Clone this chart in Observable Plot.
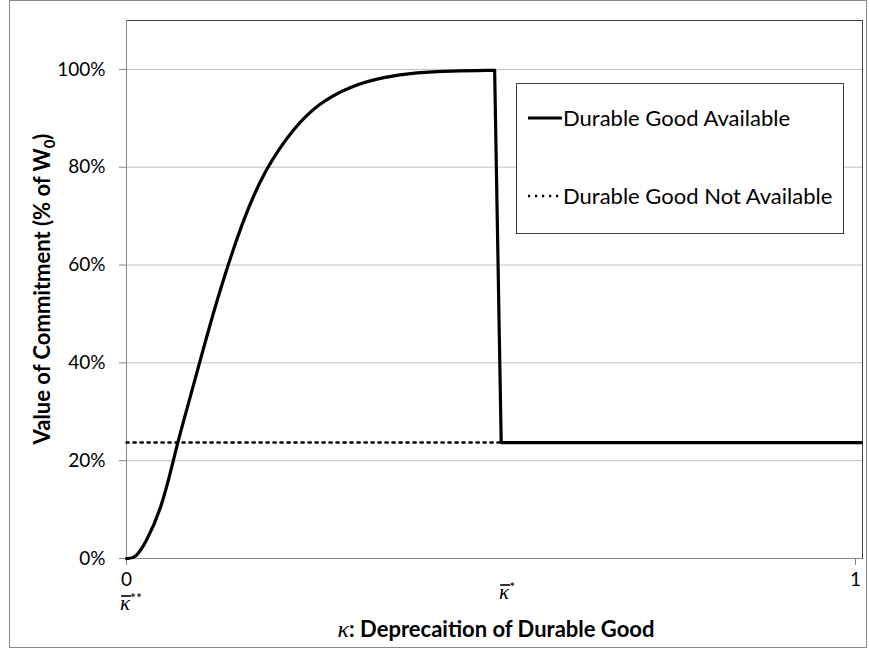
<!DOCTYPE html>
<html>
<head>
<meta charset="utf-8">
<script src="https://cdn.jsdelivr.net/npm/d3@7"></script>
<script src="https://cdn.jsdelivr.net/npm/@observablehq/plot@0.6"></script>
<style>
html, body { margin: 0; padding: 0; background: #fff; }
#chart { width: 869px; height: 650px; position: relative; }
</style>
</head>
<body>
<div id="chart"></div>
<script>
// ---------- data ----------
const seriesNames = ["Durable Good Available", "Durable Good Not Available"];

// Durable Good Available (kappa, value of commitment as share of W0)
const availableX = [0, 0.012, 0.026, 0.047, 0.064, 0.070, 0.100, 0.122, 0.160, 0.191, 0.229, 0.263, 0.307, 0.353, 0.399, 0.444, 0.505, 0.514, 1.008];
const availableY = [0, 0, 0.031, 0.098, 0.198, 0.237, 0.398, 0.520, 0.696, 0.798, 0.880, 0.930, 0.966, 0.985, 0.994, 0.997, 0.998, 0.237, 0.237];
const peakIndex = 16; // last point before the drop

// Durable Good Not Available
const notAvailableX = [0, 1.008];
const notAvailableY = [0.237, 0.237];

// axes
const yTicks = [0, 0.2, 0.4, 0.6, 0.8, 1.0];
const xTicks = [0, 1];
const xDomain = [0, 1.0096];
const yDomain = [0, 1.1];
const kappaLabelX = [0, 0.52];
const kappaLabelSup = ["**", "*"];
const yTitle = ["Value of Commitment (% of W", "0", ")"];
const xTitle = ["\u03BA", ": Deprecaition of Durable Good"];

// ---------- build tables ----------
const available = availableX.map((x, i) => ({x, y: availableY[i]}));
const curvePart = available.slice(0, peakIndex + 1);
const dropPart = available.slice(peakIndex);
const notAvailable = notAvailableX.map((x, i) => ({x, y: notAvailableY[i]}));

const FONT = "Lato, 'Open Sans', 'Liberation Sans', sans-serif";
const MATH = "'Liberation Serif', 'DejaVu Serif', serif";
const GRID = "#bfbfbf";
const AXIS = "#868686";
const DOTS = "2.2,4.8";

const plot = Plot.plot({
  width: 869,
  height: 650,
  marginLeft: 126,
  marginRight: 7,
  marginTop: 20,
  marginBottom: 92,
  style: {fontFamily: FONT, fontSize: "19px", color: "#000", background: "#fff", overflow: "visible"},
  x: {domain: xDomain},
  y: {domain: yDomain},
  marks: [
    Plot.gridY(yTicks.filter(d => d > 0), {stroke: GRID, strokeOpacity: 1, strokeWidth: 1}),
    Plot.frame({stroke: "#404040", strokeWidth: 1}),
    Plot.ruleY([0], {stroke: AXIS}),
    Plot.ruleX([0], {stroke: AXIS}),
    Plot.axisY(yTicks, {tickFormat: d3.format(".0%"), tickSize: 7, tickPadding: 14, stroke: AXIS, label: null}),
    Plot.axisX(xTicks, {tickFormat: d => String(d), tickSize: 7, tickPadding: 7, stroke: AXIS, label: null}),
    Plot.line(notAvailable, {x: "x", y: "y", stroke: "#000", strokeWidth: 2.5, strokeDasharray: DOTS}),
    Plot.line(curvePart, {x: "x", y: "y", stroke: "#000", strokeWidth: 3.2, curve: "basis"}),
    Plot.line(dropPart, {x: "x", y: "y", stroke: "#000", strokeWidth: 3.2, strokeLinejoin: "miter"})
  ]
});

document.getElementById("chart").appendChild(plot);

const svg = d3.select(plot);
const xs = plot.scale("x");

// outer chart border
svg.append("rect")
  .attr("x", 9.5).attr("y", 0.5).attr("width", 857).attr("height", 647)
  .attr("fill", "none").attr("stroke", AXIS).attr("stroke-width", 1);

// kappa-bar labels under the x axis
const kappaBaseline = [610, 599];
kappaLabelX.forEach((v, i) => {
  const px = xs.apply(v);
  const b = kappaBaseline[i];
  const t = svg.append("text")
    .attr("x", px - 6).attr("y", b)
    .attr("text-anchor", "start")
    .attr("font-family", MATH)
    .attr("font-size", 21).attr("fill", "#000");
  t.append("tspan").attr("font-style", "italic").text("\u03BA");
  t.append("tspan").attr("font-size", 14).attr("dy", -7)
    .attr("font-family", FONT).text(kappaLabelSup[i]);
  // overbar of the kappa
  svg.append("line")
    .attr("x1", px - 5).attr("x2", px + 5)
    .attr("y1", b - 14).attr("y2", b - 14)
    .attr("stroke", "#000").attr("stroke-width", 1.6);
});

// x axis title
const xt = svg.append("text")
  .attr("x", (126 + 862) / 2 + 2).attr("y", 637)
  .attr("text-anchor", "middle").attr("font-family", FONT)
  .attr("font-size", 22).attr("font-weight", "bold").attr("fill", "#000");
xt.append("tspan").attr("font-family", MATH)
  .attr("font-style", "italic").attr("font-weight", "normal").attr("font-size", 24).text(xTitle[0]);
xt.append("tspan").text(xTitle[1]);

// y axis title
const yt = svg.append("text")
  .attr("transform", "translate(50,289) rotate(-90)")
  .attr("text-anchor", "middle").attr("font-family", FONT)
  .attr("font-size", 22).attr("font-weight", "bold").attr("fill", "#000");
yt.append("tspan").text(yTitle[0]);
yt.append("tspan").attr("font-size", 15).attr("dy", 5).text(yTitle[1]);
yt.append("tspan").attr("dy", -5).text(yTitle[2]);

// legend
const lg = svg.append("g");
lg.append("rect")
  .attr("x", 516.5).attr("y", 83.5).attr("width", 327).attr("height", 150)
  .attr("fill", "#fff").attr("stroke", "#404040").attr("stroke-width", 1);
const legendY = [118, 196];
const legendDash = [null, DOTS];
const legendWidth = [3.2, 2.5];
seriesNames.forEach((name, i) => {
  const l = lg.append("line")
    .attr("x1", 528).attr("x2", 562).attr("y1", legendY[i]).attr("y2", legendY[i])
    .attr("stroke", "#000").attr("stroke-width", legendWidth[i]);
  if (legendDash[i]) l.attr("stroke-dasharray", legendDash[i]);
  lg.append("text")
    .attr("x", 563).attr("y", legendY[i]).attr("dy", "0.35em")
    .attr("text-anchor", "start")
    .attr("font-family", FONT).attr("font-size", 22).attr("fill", "#000")
    .text(name);
});
</script>
</body>
</html>
